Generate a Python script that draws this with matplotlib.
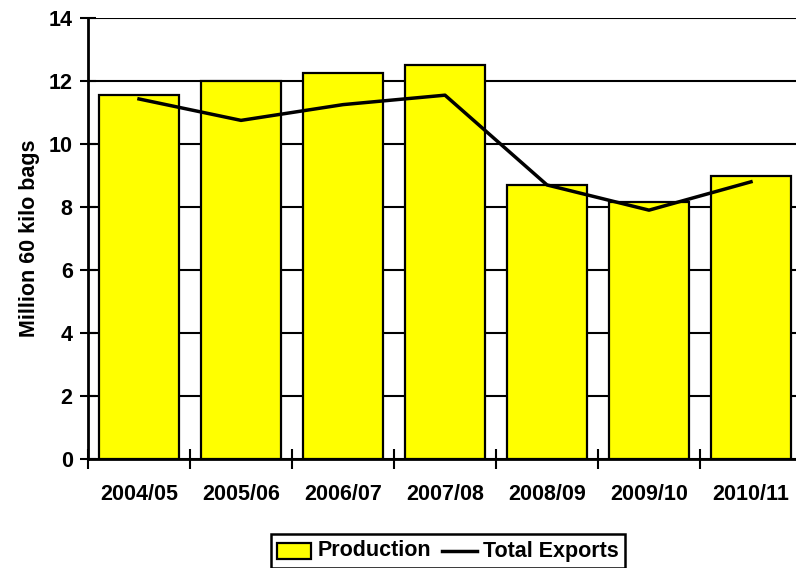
import matplotlib
matplotlib.use('Agg')
import matplotlib.pyplot as plt
from matplotlib.patches import Patch
from matplotlib.lines import Line2D

# data
seasons = ['2004/05', '2005/06', '2006/07', '2007/08', '2008/09', '2009/10', '2010/11']
production = [11.55, 12.0, 12.25, 12.5, 8.7, 8.15, 9.0]
total_exports = [11.43, 10.75, 11.25, 11.55, 8.7, 7.9, 8.8]

plt.rcParams['font.family'] = ['Liberation Sans', 'DejaVu Sans']
plt.rcParams['font.weight'] = 'bold'

fig = plt.figure(figsize=(7.96, 5.68), dpi=100)
ax = fig.add_axes([88 / 796, 109 / 568, 714 / 796, 441 / 568])

x = list(range(len(seasons)))
ax.bar(x, production, width=0.78, color='#FFFF00', edgecolor='black', linewidth=1.6, zorder=3)
ax.plot(x, total_exports, color='black', linewidth=2.5, zorder=4)

ax.set_xlim(-0.5, len(seasons) - 0.5)
ax.set_ylim(0, 14)
ax.set_yticks(range(0, 15, 2))
ax.yaxis.grid(True, color='black', linewidth=1.5, zorder=0)
ax.set_axisbelow(True)

# category labels in the middle, tick marks on the boundaries
ax.set_xticks(x)
ax.set_xticklabels(seasons, fontsize=15.5, fontweight='bold')
ax.set_xticks([i - 0.5 for i in range(len(seasons) + 1)], minor=True)
ax.tick_params(axis='x', which='major', length=0, pad=18)
ax.tick_params(axis='x', which='minor', direction='inout', length=14, width=1.5)
ax.tick_params(axis='y', direction='inout', length=12, width=1.5, labelsize=15.5, pad=5)
for lab in ax.get_yticklabels():
    lab.set_fontweight('bold')

for side in ['top', 'right']:
    ax.spines[side].set_visible(False)
for side in ['left', 'bottom']:
    ax.spines[side].set_linewidth(2)

ax.set_ylabel('Million 60 kilo bags', fontsize=15.5, fontweight='bold', labelpad=6)

handles = [Patch(facecolor='#FFFF00', edgecolor='black', linewidth=1.6),
           Line2D([0], [0], color='black', linewidth=2.5)]
leg = fig.legend(handles, ['Production', 'Total Exports'], loc='center',
                 bbox_to_anchor=(448 / 796, 17 / 568), ncol=2, fontsize=15.5,
                 fancybox=False, edgecolor='black', framealpha=1,
                 handlelength=1.6, handletextpad=0.3, columnspacing=0.5,
                 borderpad=0.3)
leg.get_frame().set_linewidth(1.8)
# keep both entries on the same line
for col in leg._legend_handle_box.get_children():
    for row in col.get_children():
        row.align = 'center'
for t in leg.get_texts():
    t.set_fontweight('bold')

fig.savefig('out.png', dpi=100)
